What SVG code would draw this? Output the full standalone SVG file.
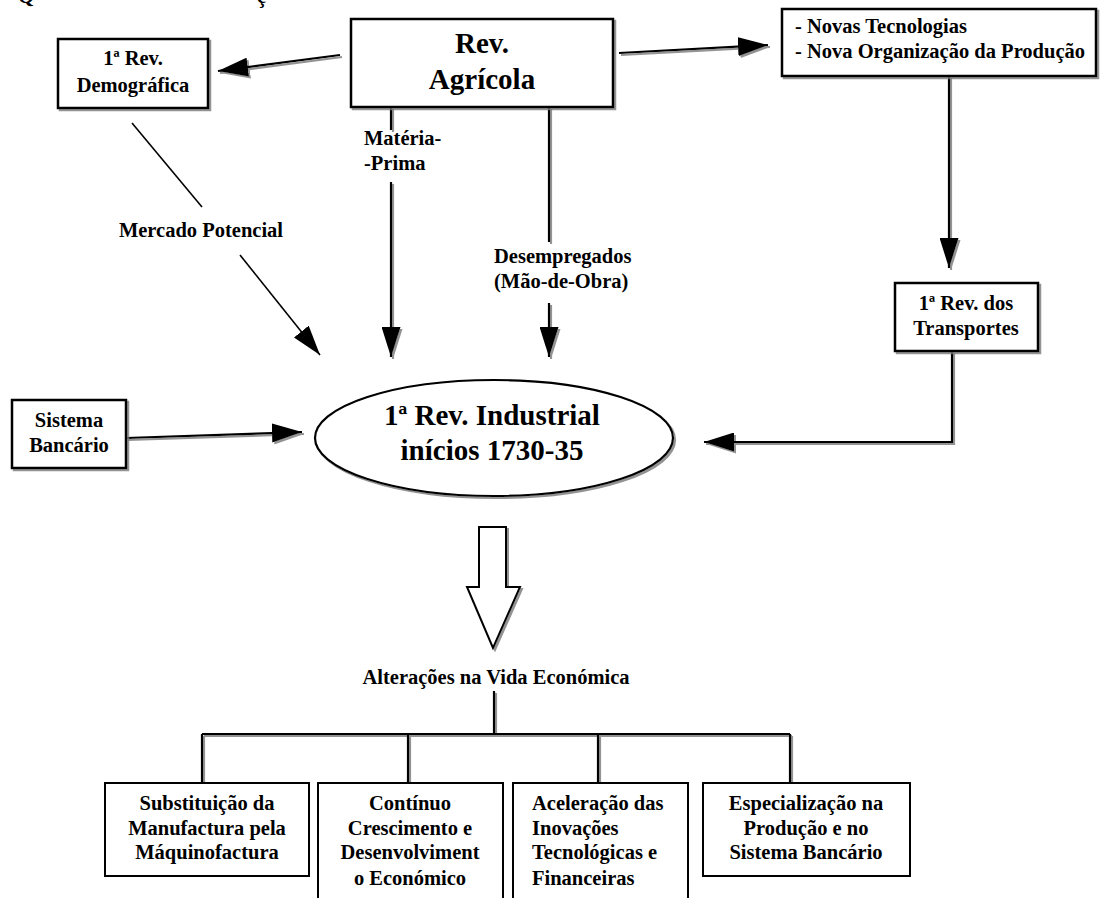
<svg xmlns="http://www.w3.org/2000/svg" width="1104" height="898" viewBox="0 0 1104 898">
<defs>
<style>
text{font-family:"Liberation Serif","Times New Roman",serif;font-weight:bold;fill:#000}
.t{font-size:20.5px}
.big{font-size:29px}
.c{text-anchor:middle}
.box{fill:#fff;stroke:#000;stroke-width:2.5}
.bbox{fill:#fff;stroke:#000;stroke-width:2}
.ln{fill:none;stroke:#000;stroke-width:2.2}
.thin{fill:none;stroke:#000;stroke-width:1.6}
</style>
<filter id="sh" x="-10%" y="-10%" width="130%" height="130%">
<feDropShadow dx="2" dy="2" stdDeviation="0.6" flood-color="#777" flood-opacity="0.8"/>
</filter>
<marker id="ah" markerUnits="userSpaceOnUse" markerWidth="31" markerHeight="19" refX="30" refY="9.5" orient="auto" viewBox="0 0 31 19">
<path d="M0,0 L30,9.5 L0,19 z" fill="#000"/>
</marker>
</defs>

<text class="t" x="18" y="3">Q</text>
<text class="t" x="257" y="3">ç</text>

<g id="connectors">
<g filter="url(#sh)">
<line class="ln" x1="340" y1="55" x2="218" y2="71" marker-end="url(#ah)"/>
<line class="ln" x1="619" y1="53" x2="768" y2="45" marker-end="url(#ah)"/>
<line class="ln" x1="391" y1="107" x2="391" y2="130"/>
<line class="ln" x1="391" y1="182" x2="391" y2="357" marker-end="url(#ah)"/>
<line class="ln" x1="549" y1="107" x2="549" y2="242"/>
<line class="ln" x1="549" y1="303" x2="549" y2="357" marker-end="url(#ah)"/>
<line class="ln" x1="949" y1="76" x2="949" y2="268" marker-end="url(#ah)"/>
<path class="ln" d="M952,351 V442 H704" marker-end="url(#ah)"/>
<line class="ln" x1="126" y1="438" x2="302" y2="432" marker-end="url(#ah)"/>
<path class="ln" d="M494,691 V734 M202,734 H790 M202,734 V783 M408,734 V783 M598,734 V783 M790,734 V783"/>
<path d="M479,527 H506 V587 H520 L493,648 L467,587 H479 Z" fill="#fff" stroke="#000" stroke-width="2"/>
</g>
<line class="thin" x1="132" y1="123" x2="202" y2="207"/>
<line class="thin" x1="240" y1="255" x2="320" y2="355" marker-end="url(#ah)"/>
</g>

<g id="labels">
<text class="t" x="364" y="145">Matéria-</text>
<text class="t" x="364" y="170">-Prima</text>
<text class="t" x="494" y="263">Desempregados</text>
<text class="t" x="494" y="288">(Mão-de-Obra)</text>
<text class="t c" x="201" y="237">Mercado Potencial</text>
<text class="t c" x="496" y="684">Alterações na Vida Económica</text>
</g>

<g id="rev-agricola">
<rect class="box" x="351" y="19" width="262" height="88" filter="url(#sh)"/>
<text class="big c" x="482" y="53">Rev.</text>
<text class="big c" x="482" y="89">Agrícola</text>
</g>

<g id="rev-demografica">
<rect class="box" x="58" y="39" width="150" height="69" filter="url(#sh)"/>
<text class="t c" x="133" y="65">1ª Rev.</text>
<text class="t c" x="133" y="92">Demográfica</text>
</g>

<g id="novas-tecnologias">
<rect class="box" x="782" y="9" width="314" height="67" filter="url(#sh)"/>
<text class="t" x="795" y="33">- Novas Tecnologias</text>
<text class="t" x="795" y="58">- Nova Organização da Produção</text>
</g>

<g id="rev-transportes">
<rect class="box" x="895" y="283" width="143" height="68" filter="url(#sh)"/>
<text class="t c" x="966" y="310">1ª Rev. dos</text>
<text class="t c" x="966" y="335">Transportes</text>
</g>

<g id="sistema-bancario">
<rect class="box" x="12" y="400" width="114" height="68" filter="url(#sh)"/>
<text class="t c" x="69" y="427">Sistema</text>
<text class="t c" x="69" y="452">Bancário</text>
</g>

<g id="rev-industrial">
<ellipse cx="494" cy="438" rx="179" ry="58" fill="#fff" stroke="#000" stroke-width="2.2" filter="url(#sh)"/>
<text class="big c" x="492" y="425">1ª Rev. Industrial</text>
<text class="big c" x="492" y="460">inícios 1730-35</text>
</g>

<g id="substituicao">
<rect class="bbox" x="105" y="783" width="204" height="93"/>
<text class="t c" x="207" y="810">Substituição da</text>
<text class="t c" x="207" y="835">Manufactura pela</text>
<text class="t c" x="207" y="859">Máquinofactura</text>
</g>

<g id="continuo">
<rect class="bbox" x="318" y="783" width="185" height="130"/>
<text class="t c" x="410" y="810">Contínuo</text>
<text class="t c" x="410" y="835">Crescimento e</text>
<text class="t c" x="410" y="859">Desenvolviment</text>
<text class="t c" x="410" y="885">o Económico</text>
</g>

<g id="aceleracao">
<rect class="bbox" x="513" y="783" width="175" height="130"/>
<text class="t" x="532" y="810">Aceleração das</text>
<text class="t" x="532" y="835">Inovações</text>
<text class="t" x="532" y="859">Tecnológicas e</text>
<text class="t" x="532" y="885">Financeiras</text>
</g>

<g id="especializacao">
<rect class="bbox" x="703" y="783" width="207" height="93"/>
<text class="t c" x="806" y="810">Especialização na</text>
<text class="t c" x="806" y="835">Produção e no</text>
<text class="t c" x="806" y="859">Sistema Bancário</text>
</g>
</svg>
